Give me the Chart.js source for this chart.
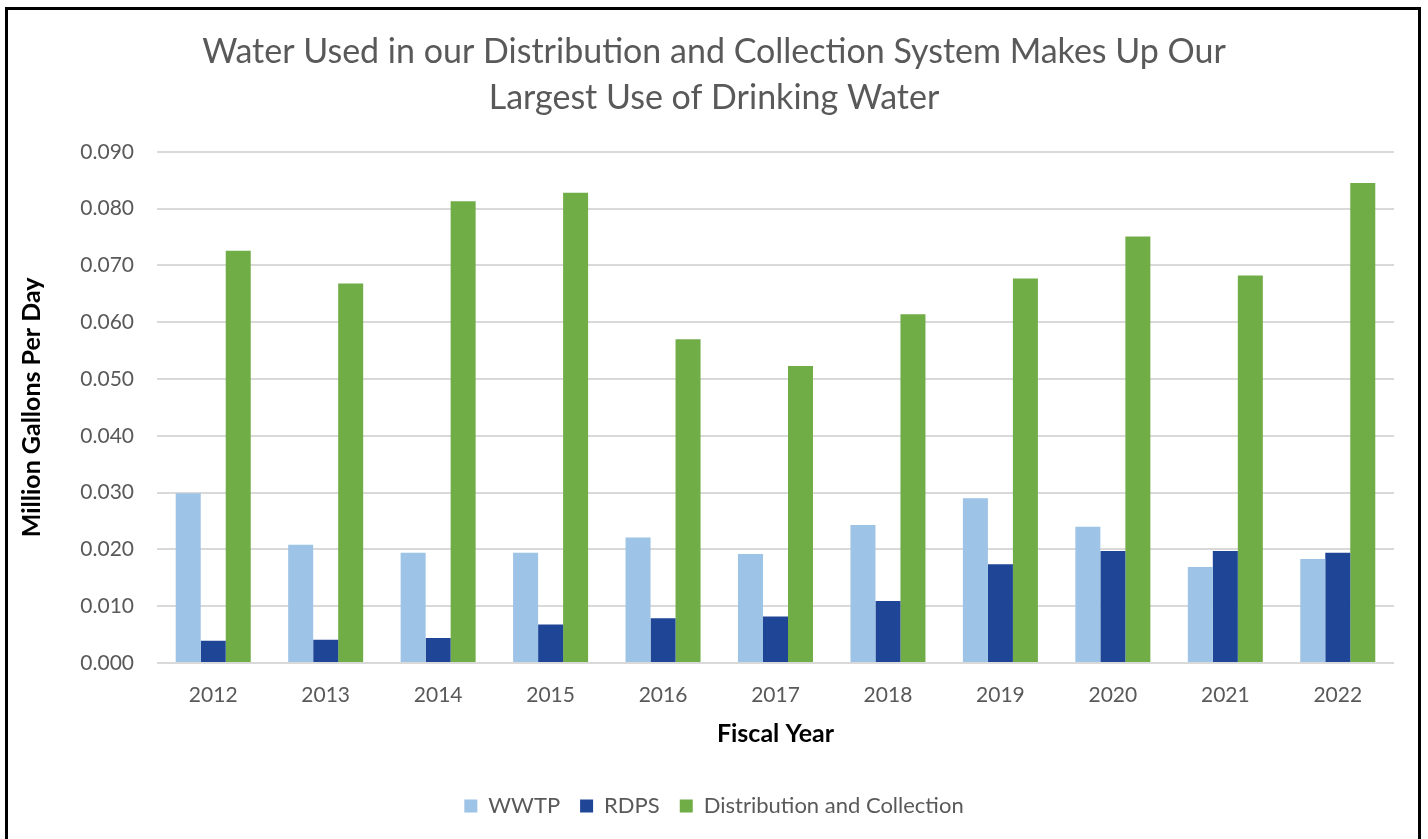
<!DOCTYPE html>
<html>
<head>
<meta charset="utf-8">
<script src="https://cdn.jsdelivr.net/npm/chart.js@4"></script>
<style>
  html, body { margin: 0; padding: 0; background: #fff; }
  #frame {
    position: absolute; left: 5px; top: 7px; width: 1416px; height: 850px;
    border: 3px solid #000; box-sizing: border-box;
  }
  #wrap { position: absolute; left: 0; top: 0; width: 1428px; height: 839px; }
</style>
</head>
<body>
<div id="frame"></div>
<div id="wrap"><canvas id="waterChart"></canvas></div>
<script>
const years = ['2012', '2013', '2014', '2015', '2016', '2017', '2018', '2019', '2020', '2021', '2022'];
const wwtp = [0.0299, 0.0208, 0.0194, 0.0194, 0.0221, 0.0192, 0.0243, 0.0290, 0.0240, 0.0169, 0.0183];
const rdps = [0.0039, 0.0041, 0.0044, 0.0068, 0.0079, 0.0082, 0.0109, 0.0174, 0.0197, 0.0197, 0.0194];
const distCollection = [0.0726, 0.0668, 0.0813, 0.0828, 0.0570, 0.0523, 0.0614, 0.0677, 0.0751, 0.0682, 0.0845];

const textColor = '#595959';
const fontFamily = "Lato, 'Open Sans', sans-serif";

const chart = new Chart(document.getElementById('waterChart').getContext('2d'), {
  type: 'bar',
  data: {
    labels: years,
    datasets: [
      { label: 'WWTP', data: wwtp, backgroundColor: '#9dc3e6' },
      { label: 'RDPS', data: rdps, backgroundColor: '#1f4696' },
      { label: 'Distribution and Collection', data: distCollection, backgroundColor: '#70ad47' }
    ]
  },
  options: {
    responsive: true,
    maintainAspectRatio: false,
    animation: false,
    datasets: { bar: { categoryPercentage: 0.667, barPercentage: 1.0 } },
    layout: { padding: { left: 17, right: 17, top: 0, bottom: 12 } },
    plugins: {
      title: {
        display: true,
        text: ['Water Used in our Distribution and Collection System Makes Up Our',
               'Largest Use of Drinking Water'],
        color: textColor,
        font: { family: fontFamily, size: 34, weight: 'normal', lineHeight: 1.35 },
        padding: { top: 29, bottom: 31 }
      },
      legend: {
        position: 'bottom',
        labels: {
          color: textColor,
          font: { family: fontFamily, size: 22 },
          boxWidth: 13,
          boxHeight: 13,
          padding: 20
        }
      },
      tooltip: { enabled: false }
    },
    scales: {
      x: {
        grid: { display: false, drawTicks: false },
        border: { display: false },
        ticks: { color: textColor, font: { family: fontFamily, size: 21 }, padding: 20 },
        title: {
          display: true,
          text: 'Fiscal Year',
          color: '#000',
          font: { family: fontFamily, size: 25, weight: 'bold' },
          padding: { top: 0, bottom: 26 }
        },
        afterFit: scale => { scale.height = 112; }
      },
      y: {
        min: 0,
        max: 0.09,
        grid: { color: '#d9d9d9', lineWidth: 2, drawTicks: false },
        border: { display: false },
        ticks: {
          stepSize: 0.01,
          color: textColor,
          font: { family: fontFamily, size: 21 },
          padding: 23,
          callback: v => v.toFixed(3)
        },
        title: {
          display: true,
          text: 'Million Gallons Per Day',
          color: '#000',
          font: { family: fontFamily, size: 25, weight: 'bold' },
          padding: { top: 0, bottom: 0 }
        },
        afterFit: scale => { scale.width = 140; }
      },
      // empty right-hand axis, only keeps the plot clear of the frame
      yRight: {
        position: 'right',
        display: true,
        grid: { display: false, drawTicks: false },
        border: { display: false },
        ticks: { display: false },
        afterFit: scale => { scale.width = 17; }
      }
    }
  }
});
</script>
</body>
</html>
